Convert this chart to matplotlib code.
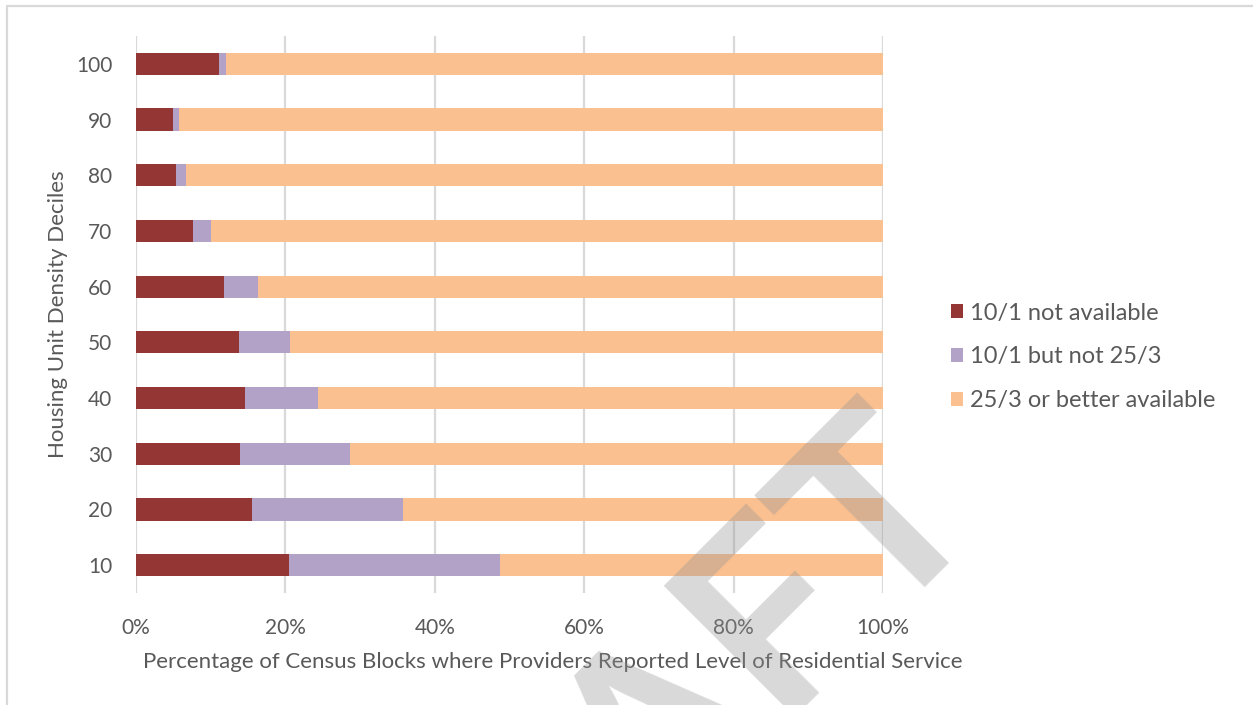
import numpy as np
import matplotlib
matplotlib.use("Agg")
import matplotlib.pyplot as plt
from matplotlib.lines import Line2D

##-----------DATA-----------##
deciles = ["10", "20", "30", "40", "50", "60", "70", "80", "90", "100"]
not_avail = [20.5, 15.5, 13.9, 14.6, 13.8, 11.8, 7.6, 5.3, 5.0, 11.1]
not_25_3 = [28.2, 20.2, 14.7, 9.8, 6.8, 4.5, 2.5, 1.4, 0.7, 0.9]
better = [51.3, 64.3, 71.4, 75.6, 79.4, 83.7, 89.9, 93.3, 94.3, 88.0]
series_names = ["10/1 not available", "10/1 but not 25/3", "25/3 or better available"]
x_ticks = [0, 20, 40, 60, 80, 100]

##-----------STYLE-----------##
colors = ["#943634", "#b2a2c7", "#fac090"]
txt = "#595959"
grid = "#d9d9d9"
plt.rcParams['font.family'] = ['Lato', 'DejaVu Sans']

fig = plt.figure(figsize=(12.53, 7.05), dpi=100)
ax = fig.add_axes([136/1253, 1-593/705, (883-136)/1253, (593-36)/705])

y = np.arange(len(deciles))
left = np.zeros(len(deciles))
for vals, c, name in zip([not_avail, not_25_3, better], colors, series_names):
	ax.barh(y, vals, left=left, height=0.4, color=c, label=name, zorder=2)
	left = left + np.array(vals)

ax.set_xlim(0, 100)
ax.set_ylim(-0.5, len(deciles)-0.5)
ax.set_xticks(x_ticks)
ax.set_xticklabels([f"{v}%" for v in x_ticks])
ax.set_yticks(y)
ax.set_yticklabels(deciles)
ax.tick_params(length=0, labelsize=15, colors=txt)
ax.tick_params(axis='y', pad=17)
ax.tick_params(axis='x', pad=18)
ax.grid(axis='x', color=grid, lw=1.6, zorder=0)
for s in ax.spines.values(): s.set_visible(False)

ax.set_xlabel("Percentage of Census Blocks where Providers Reported Level of Residential Service",
			  fontsize=16, color=txt)
ax.xaxis.set_label_coords((553-136)/747, -(652-593)/557)
ax.set_ylabel("Housing Unit Density Deciles", fontsize=16, color=txt)
ax.yaxis.set_label_coords(-(136-68)/747, 0.5)

#legend in figure order
h, l = ax.get_legend_handles_labels()
fig.legend(h, l, loc='center left', bbox_to_anchor=(930/1253, 1-357/705), frameon=False,
		   fontsize=17, labelcolor=txt, handlelength=0.5, handleheight=0.5,
		   handletextpad=0.3, labelspacing=0.97)

#chart border (top and left visible)
fig.add_artist(Line2D([7/1253, 7/1253, 1], [0, 1-6/705, 1-6/705], color=grid, lw=1.6,
					  transform=fig.transFigure))

#DRAFT watermark
fig.text(986/1253, 1-506/705, "DRAFT", fontsize=184, fontweight='bold', color='#929292',
		 alpha=0.35, rotation=45, rotation_mode='anchor', ha='right', va='baseline', zorder=10)

fig.savefig("out.png", dpi=100)
